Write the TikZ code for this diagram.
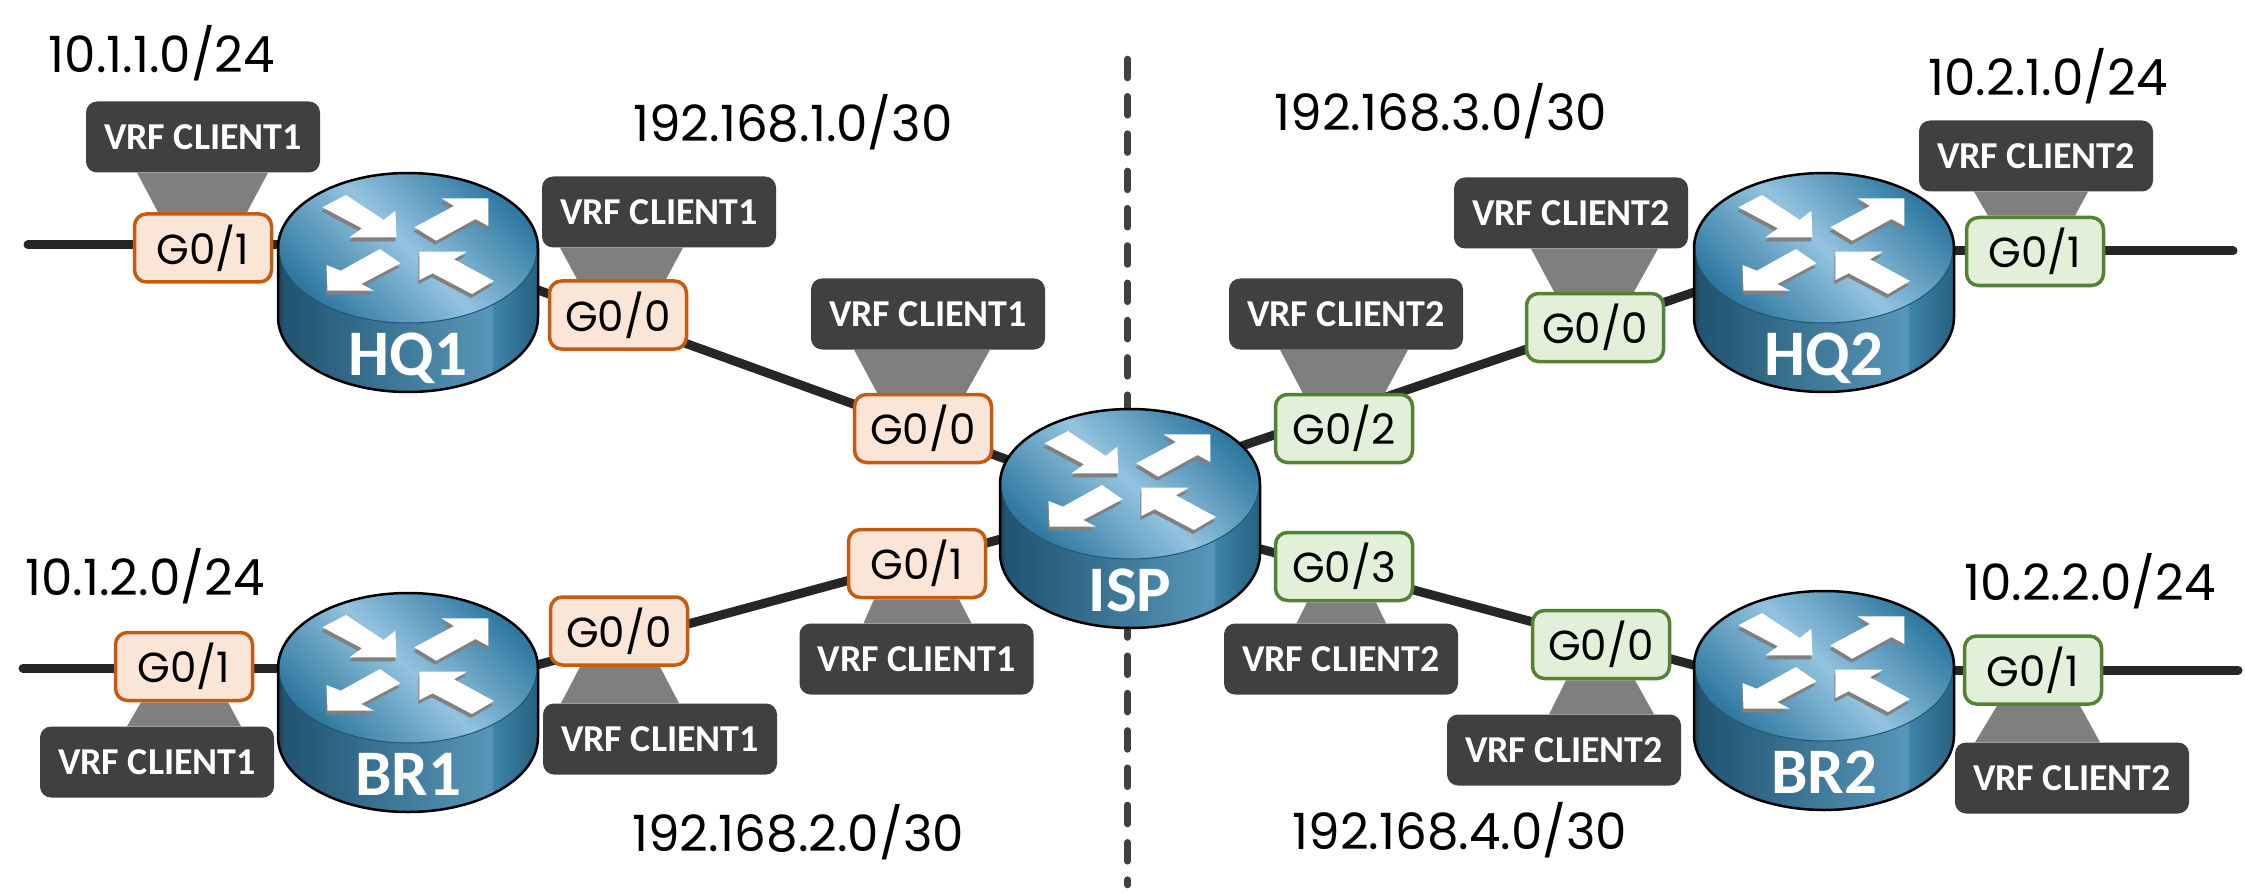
\documentclass[tikz,border=0pt]{standalone}
\usepackage{fontspec}
\setmainfont{Poppins}
\newfontfamily\vrffont{Carlito}
\usetikzlibrary{backgrounds}

\definecolor{wirecolor}{HTML}{262626}
\definecolor{vrfcolor}{HTML}{404040}
\definecolor{vrflinkcolor}{HTML}{7F7F7F}
\definecolor{orangeline}{HTML}{C55A11}
\definecolor{orangefill}{HTML}{FBE5D6}
\definecolor{greenline}{HTML}{548235}
\definecolor{greenfill}{HTML}{E2F0D9}
\definecolor{arrowshadow}{HTML}{808080}
\definecolor{routeredge}{HTML}{1F5575}
\definecolor{routerdark}{HTML}{2F78A0}
\definecolor{routerlight}{HTML}{93C3DF}

\pgfdeclarehorizontalshading{routerbody}{100bp}{
color(0bp)=(white!0!black);
color(25bp)=(routerdark!50!black!100);
color(26bp)=(routerdark!70!black);
color(66bp)=(routerdark!60!routerlight);
color(66.5bp)=(routerdark!85!routerlight);
color(75bp)=(routerdark!80!black);
color(100bp)=(routerdark!80!black)}

\tikzset{
wire/.style={line width=9, color=wirecolor},
divider/.style={line width=6.5, color=vrfcolor, line cap=round, dash pattern=on 19pt off 18.3pt},
port/.style={rounded corners=12pt, line width=3.5, minimum width=137, minimum height=68, inner sep=0, font=\fontsize{42}{42}\selectfont},
portA/.style={port, draw=orangeline, fill=orangefill},
portB/.style={port, draw=greenline, fill=greenfill},
vrf/.style={rounded corners=11pt, fill=vrfcolor, minimum width=234, minimum height=71, inner sep=0, text=white, font=\vrffont\bfseries\fontsize{38}{38}\selectfont},
vrflink/.style={fill=vrflinkcolor},
subnet/.style={inner sep=0, font=\fontsize{50}{50}\selectfont},
routername/.style={anchor=base, inner sep=0, text=white, font=\vrffont\bfseries\fontsize{65}{65}\selectfont},
}

\newcommand{\drawrouter}[4]{
\begin{scope}[shift={(#2,#3)}]
\path[shading=routerbody] (-130,0) .. controls (-130,-41.4) and (-71.8,-75) .. (0,-75) .. controls (71.8,-75) and (130,-41.4) .. (130,0) -- (130,69) .. controls (130,110.4) and (71.8,144) .. (0,144) .. controls (-71.8,144) and (-130,110.4) .. (-130,69) -- cycle;
\draw[line width=1, draw=routeredge, top color=routerdark, bottom color=routerdark, middle color=routerlight, shading angle=-45] (0,0) ellipse [x radius=129, y radius=75];
\draw[line width=2.5] (-130,0) .. controls (-130,-41.4) and (-71.8,-75) .. (0,-75) .. controls (71.8,-75) and (130,-41.4) .. (130,0) -- (130,69) .. controls (130,110.4) and (71.8,144) .. (0,144) .. controls (-71.8,144) and (-130,110.4) .. (-130,69) -- cycle;
\foreach \dx/\dy/\arrowcol in {-1/4/arrowshadow,0/0/white}{
\fill[\arrowcol, shift={(\dx,\dy)}] (-85.6,-40.7) -- (-62,-53) -- (-24.3,-28) -- (-12.6,-37.3) -- (-11.6,-10.7) -- (-58.5,-10.7) -- (-46,-19.7) -- cycle;
\fill[\arrowcol, shift={(\dx,\dy)}] (80.3,-49.7) -- (33.3,-49.7) -- (46,-42) -- (6.3,-20.7) -- (28.2,-7.3) -- (67.5,-29) -- (80.3,-22) -- cycle;
\fill[\arrowcol, shift={(\dx,\dy)}] (-81.5,17) -- (-80.5,42.7) -- (-34,42.7) -- (-46.8,36) -- (-7.5,15.3) -- (-28,1) -- (-67.2,22.7) -- cycle;
\fill[\arrowcol, shift={(\dx,\dy)}] (11.4,3.7) -- (58.8,3.7) -- (46,11.3) -- (85.9,33) -- (64,46) -- (24.7,25.3) -- (11.4,32) -- cycle;
}
\node[routername] (#1label) at (0,127) {#4};
\coordinate (#1) at (0,0);
\end{scope}
}

\begin{document}
\begin{tikzpicture}[x=1pt,y=-1pt]
\useasboundingbox (0,0) rectangle (2245,893);

\drawrouter{HQ1}{408}{248}{HQ1}
\drawrouter{BR1}{408}{668}{BR1}
\drawrouter{ISP}{1130}{484}{ISP}
\drawrouter{HQ2}{1824}{248}{HQ2}
\drawrouter{BR2}{1824}{666}{BR2}

\node[portA] (HQ1g1) at (203,248) {G0/1};
\node[portA] (HQ1g0) at (618,315) {G0/0};
\node[portA] (ISPg0) at (923,428.5) {G0/0};
\node[portA] (ISPg1) at (917,563.5) {G0/1};
\node[portA] (BR1g0) at (619,631) {G0/0};
\node[portA] (BR1g1) at (184,666.5) {G0/1};
\node[portB] (ISPg2) at (1344,428.5) {G0/2};
\node[portB] (ISPg3) at (1344,566.5) {G0/3};
\node[portB] (HQ2g0) at (1595,327.5) {G0/0};
\node[portB] (HQ2g1) at (2035,251.5) {G0/1};
\node[portB] (BR2g0) at (1601,644.5) {G0/0};
\node[portB] (BR2g1) at (2033,670) {G0/1};

\node[vrf] (HQ1v1) at (203,137) {VRF CLIENT1};
\node[vrf] (HQ1v0) at (659,212) {VRF CLIENT1};
\node[vrf] (ISPv0) at (928,314) {VRF CLIENT1};
\node[vrf] (ISPv1) at (916.5,659) {VRF CLIENT1};
\node[vrf] (BR1v0) at (660,739) {VRF CLIENT1};
\node[vrf] (BR1v1) at (157,762) {VRF CLIENT1};
\node[vrf] (ISPv2) at (1346,314) {VRF CLIENT2};
\node[vrf] (ISPv3) at (1341,659) {VRF CLIENT2};
\node[vrf] (HQ2v0) at (1571,213) {VRF CLIENT2};
\node[vrf] (HQ2v1) at (2036,156) {VRF CLIENT2};
\node[vrf] (BR2v0) at (1564,750) {VRF CLIENT2};
\node[vrf] (BR2v1) at (2072,778) {VRF CLIENT2};

\node[subnet] (netA) at (162,53) {10.1.1.0/24};
\node[subnet] (netB) at (145,576) {10.1.2.0/24};
\node[subnet] (netC) at (793,122) {192.168.1.0/30};
\node[subnet] (netD) at (798,832) {192.168.2.0/30};
\node[subnet] (netE) at (1441,111) {192.168.3.0/30};
\node[subnet] (netF) at (1460,830) {192.168.4.0/30};
\node[subnet] (netG) at (2048,76) {10.2.1.0/24};
\node[subnet] (netH) at (2090,581) {10.2.2.0/24};

\coordinate (HQ1end) at (28,245);
\coordinate (BR1end) at (23,668);
\coordinate (HQ2end) at (2233,251);
\coordinate (BR2end) at (2238,670);
\coordinate (HQ1link) at (408,243);
\coordinate (BR1link) at (408,700);
\coordinate (BR2link) at (1824,700);
\coordinate (ISPwest) at (1130,504);
\coordinate (ISPsouth) at (1130,514);
\coordinate (divtop) at (1127.5,59);
\coordinate (divbottom) at (1127.5,885);

\begin{scope}[on background layer]
\draw[divider] (divtop) -- (divbottom);
\draw[wire, line cap=round] (HQ1end) -- (HQ1end -| HQ1);
\draw[wire, line cap=round] (BR1end) -- (BR1end -| BR1);
\draw[wire, line cap=round] (HQ2end) -- (HQ2end -| HQ2);
\draw[wire, line cap=round] (BR2end) -- (BR2end -| BR2);
\draw[wire] (HQ1link) -- (ISPwest);
\draw[wire] (BR1link) -- (ISPwest);
\draw[wire] (HQ2) -- (ISP);
\draw[wire] (BR2link) -- (ISPsouth);
\fill[vrflink] ([xshift=-66]HQ1v1.south) -- ([xshift=65]HQ1v1.south) -- ([xshift=44]HQ1g1.north) -- ([xshift=-45]HQ1g1.north) -- cycle;
\fill[vrflink] ([xshift=-99]HQ1v0.south) -- ([xshift=24]HQ1v0.south) -- ([xshift=48]HQ1g0.north) -- ([xshift=-41]HQ1g0.north) -- cycle;
\fill[vrflink] ([xshift=-74]ISPv0.south) -- ([xshift=62]ISPv0.south) -- ([xshift=43]ISPg0.north) -- ([xshift=-46]ISPg0.north) -- cycle;
\fill[vrflink] ([xshift=-53]ISPv1.north) -- ([xshift=55]ISPv1.north) -- ([xshift=42]ISPg1.south) -- ([xshift=-43]ISPg1.south) -- cycle;
\fill[vrflink] ([xshift=-66]ISPv2.south) -- ([xshift=62]ISPv2.south) -- ([xshift=41]ISPg2.north) -- ([xshift=-41.5]ISPg2.north) -- cycle;
\fill[vrflink] ([xshift=-44.5]ISPv3.north) -- ([xshift=45]ISPv3.north) -- ([xshift=32]ISPg3.south) -- ([xshift=-37]ISPg3.south) -- cycle;
\fill[vrflink] ([xshift=-40]HQ2v0.south) -- ([xshift=87]HQ2v0.south) -- ([xshift=39]HQ2g0.north) -- ([xshift=-41]HQ2g0.north) -- cycle;
\fill[vrflink] ([xshift=-62]HQ2v1.south) -- ([xshift=52]HQ2v1.south) -- ([xshift=40]HQ2g1.north) -- ([xshift=-47]HQ2g1.north) -- cycle;
\fill[vrflink] ([xshift=-15]BR2v0.north) -- ([xshift=90]BR2v0.north) -- ([xshift=34]BR2g0.south) -- ([xshift=-35]BR2g0.south) -- cycle;
\fill[vrflink] ([xshift=-97]BR2v1.north) -- ([xshift=28]BR2v1.north) -- ([xshift=47]BR2g1.south) -- ([xshift=-36]BR2g1.south) -- cycle;
\fill[vrflink] ([xshift=-30]BR1v1.north) -- ([xshift=84]BR1v1.north) -- ([xshift=44]BR1g1.south) -- ([xshift=-43]BR1g1.south) -- cycle;
\fill[vrflink] ([xshift=-99]BR1v0.north) -- ([xshift=19]BR1v0.north) -- ([xshift=41]BR1g0.south) -- ([xshift=-39]BR1g0.south) -- cycle;
\end{scope}
\end{tikzpicture}
\end{document}
